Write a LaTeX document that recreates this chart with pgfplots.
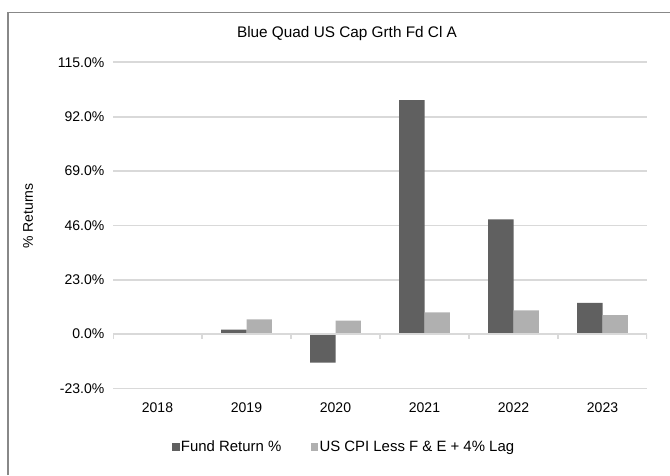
\documentclass[border=0pt]{standalone}
\usepackage{fontspec}
\setmainfont{Liberation Sans}
\usepackage{pgfplots}
\pgfplotsset{compat=1.18}
\definecolor{fundc}{RGB}{96,96,96}
\definecolor{cpic}{RGB}{176,176,176}
\definecolor{gridc}{RGB}{217,217,217}
\definecolor{framec}{RGB}{136,136,136}
\begin{document}
\begin{tikzpicture}
\useasboundingbox (0pt,0pt) rectangle (502.5pt,356.25pt);
\draw[framec, line width=1pt] (6pt,0pt) -- (6pt,346.9pt) -- (502.5pt,346.9pt);
\node[font=\fontsize{11.5}{13}\selectfont] at (260.25pt,331pt) {Blue Quad US Cap Grth Fd Cl A};
\node[rotate=90, font=\fontsize{10.5}{12}\selectfont] at (21pt,194.25pt) {\% Returns};
\begin{axis}[
  at={(84.75pt,64.875pt)}, anchor=south west,
  scale only axis, width=400.5pt, height=244.65pt,
  xmin=-0.5, xmax=5.5, ymin=-23, ymax=115,
  ytick={-23,0,23,46,69,92,115},
  xtick={0,1,2,3,4,5},
  xticklabels={2018,2019,2020,2021,2022,2023},
  yticklabel={\pgfmathprintnumber[fixed,fixed zerofill,precision=1,assume math mode=true]{\tick}\%},
  ticklabel style={font=\fontsize{10.5}{12}\selectfont},
  yticklabel style={xshift=-3pt},
  xticklabel style={yshift=-7.5pt},
  major tick length=0pt,
  axis line style={draw=none},
  ymajorgrids, grid style={gridc, line width=1.3pt},
  ybar=0pt, bar width=19.1pt,
  legend style={at={(0.4335,-0.179)}, anchor=center, draw=none, fill=none,
    legend columns=2, font=\fontsize{11.2}{13}\selectfont,
    /tikz/every odd column/.append style={column sep=-1pt},
    /tikz/every even column/.append style={column sep=20pt}},
  legend image code/.code={\fill[#1] (0pt,-2.8pt) rectangle (5.6pt,2.8pt);},
]
\addplot[fill=fundc, draw=none] coordinates {(1,1.9) (2,-12.0) (3,99.0) (4,48.6) (5,13.2)};
\addplot[fill=cpic, draw=none] coordinates {(1,6.2) (2,5.7) (3,9.2) (4,10.1) (5,8.0)};
\legend{Fund Return \%, US CPI Less F \& E + 4\% Lag}
\draw[gridc, line width=1.3pt] (axis cs:-0.5,0) -- (axis cs:5.5,0);
\pgfplotsinvokeforeach{-0.5,0.5,1.5,2.5,3.5,4.5,5.5}{
  \draw[gridc, line width=1pt] (axis cs:#1,0) -- ++(0pt,-3.5pt);
}
\end{axis}
\end{tikzpicture}
\end{document}
